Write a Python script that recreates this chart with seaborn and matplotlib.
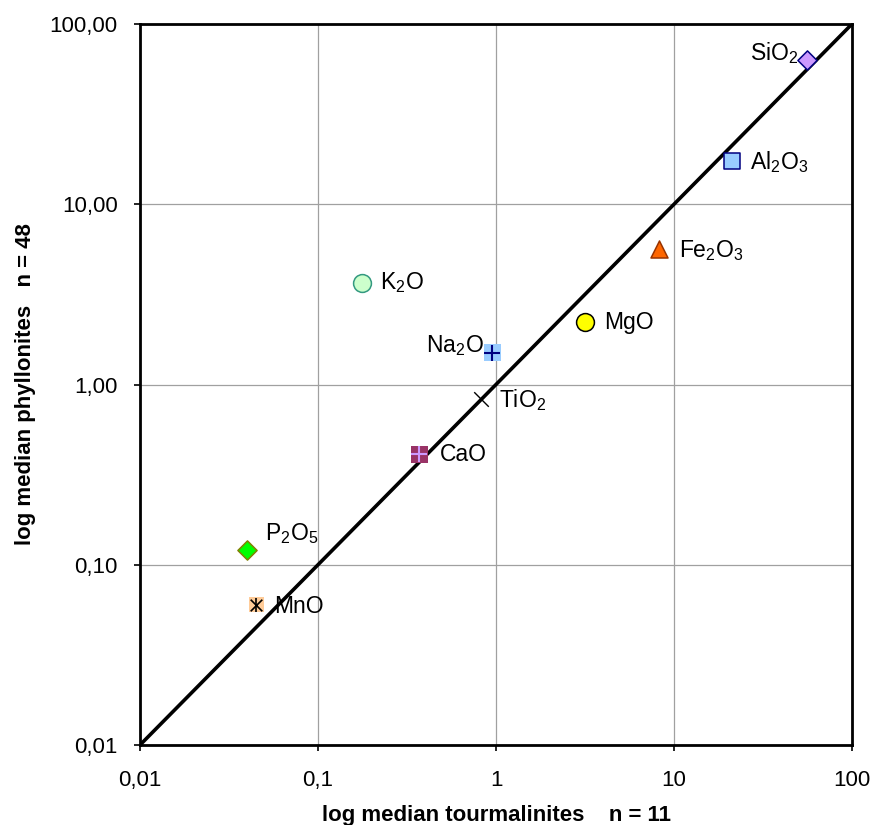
import matplotlib
matplotlib.use("Agg")
import matplotlib.pyplot as plt
import seaborn as sns
import pandas as pd

# Data
oxides = ["SiO2", "Al2O3", "Fe2O3", "K2O", "Na2O", "MgO", "TiO2", "CaO", "P2O5", "MnO"]
labels = ["SiO$_2$", "Al$_2$O$_3$", "Fe$_2$O$_3$", "K$_2$O", "Na$_2$O", "MgO",
          "TiO$_2$", "CaO", "P$_2$O$_5$", "MnO"]
tourmalinites = [56.0, 21.2, 8.2, 0.177, 0.95, 3.16, 0.82, 0.37, 0.040, 0.045]
phyllonites = [63.0, 17.4, 5.65, 3.66, 1.50, 2.22, 0.83, 0.41, 0.121, 0.060]
x_ticks = [0.01, 0.1, 1, 10, 100]
x_ticklabels = ["0,01", "0,1", "1", "10", "100"]
y_ticks = [0.01, 0.1, 1, 10, 100]
y_ticklabels = ["0,01", "0,10", "1,00", "10,00", "100,00"]

df = pd.DataFrame({"oxide": oxides, "label": labels, "x": tourmalinites, "y": phyllonites})

sns.set_style("white")
plt.rcParams["font.family"] = ["Liberation Sans", "DejaVu Sans"]
plt.rcParams["mathtext.fontset"] = "custom"
plt.rcParams["mathtext.rm"] = "Liberation Sans"
plt.rcParams["mathtext.it"] = "Liberation Sans"
plt.rcParams["mathtext.bf"] = "Liberation Sans:bold"
plt.rcParams["mathtext.default"] = "regular"
for k in ["text.color", "axes.labelcolor", "xtick.color", "ytick.color"]:
    plt.rcParams[k] = "black"

fig = plt.figure(figsize=(8.72, 8.25), dpi=100)
ax = fig.add_axes([140/872, 1-745/825, (852-140)/872, (745-24)/825])
ax.set_xscale("log")
ax.set_yscale("log")
ax.set_xlim(0.01, 100)
ax.set_ylim(0.01, 100)

ax.grid(True, which="major", color="#a0a0a0", linewidth=0.9)
ax.set_axisbelow(True)

# 1:1 line
sns.lineplot(x=[0.01, 100], y=[0.01, 100], ax=ax, color="black", linewidth=2.6, zorder=2)

# marker styles: (base marker, face, edge, size(s), overlay marker, overlay color)
styles = {
    "SiO2": ("D", "#CC99FF", "#000080", 95, None, None),
    "Al2O3": ("s", "#99CCFF", "#000080", 135, None, None),
    "Fe2O3": ("^", "#FF6600", "#993300", 150, None, None),
    "K2O": ("o", "#CCFFCC", "#339980", 165, None, None),
    "Na2O": ("s", "#99CCFF", "none", 150, "+", "#000080"),
    "MgO": ("o", "#FFFF00", "#000000", 165, None, None),
    "TiO2": (None, None, None, 0, "x", "#000000"),
    "CaO": ("s", "#993366", "none", 150, "+", "#CC99FF"),
    "P2O5": ("D", "#00FF00", "#808000", 95, None, None),
    "MnO": ("s", "#FFCC99", "none", 115, "*x", "#000000"),
}

for _, r in df.iterrows():
    m, fc, ec, s, om, oc = styles[r["oxide"]]
    sub = df[df["oxide"] == r["oxide"]]
    if m is not None:
        sns.scatterplot(data=sub, x="x", y="y", ax=ax, marker=m, s=s, color=fc,
                        edgecolor=ec, linewidth=1.1, zorder=4, legend=False)
    if om == "+":
        sns.scatterplot(data=sub, x="x", y="y", ax=ax, marker="+", s=140, color=oc,
                        linewidth=1.5, zorder=5, legend=False)
    elif om == "x":
        sns.scatterplot(data=sub, x="x", y="y", ax=ax, marker="x", s=110, color=oc,
                        linewidth=1.0, zorder=5, legend=False)
    elif om == "*x":
        sns.scatterplot(data=sub, x="x", y="y", ax=ax, marker="x", s=70, color=oc,
                        linewidth=1.2, zorder=5, legend=False)
        sns.scatterplot(data=sub, x="x", y="y", ax=ax, marker="|", s=110, color=oc,
                        linewidth=1.2, zorder=5, legend=False)

# label offsets in points
offsets = {
    "SiO2": (-6, 5, "right"),
    "Al2O3": (13, -1, "left"),
    "Fe2O3": (15, -1, "left"),
    "K2O": (13, 0, "left"),
    "Na2O": (-6, 5, "right"),
    "MgO": (14, 0, "left"),
    "TiO2": (13, -1, "left"),
    "CaO": (15, 0, "left"),
    "P2O5": (13, 12, "left"),
    "MnO": (13, -1, "left"),
}
for _, r in df.iterrows():
    dx, dy, ha = offsets[r["oxide"]]
    ax.annotate(r["label"], (r["x"], r["y"]), xytext=(dx, dy), textcoords="offset points",
                ha=ha, va="center", fontsize=16.5, zorder=6)

ax.set_xticks(x_ticks)
ax.set_xticklabels(x_ticklabels, fontsize=16)
ax.set_yticks(y_ticks)
ax.set_yticklabels(y_ticklabels, fontsize=16)
ax.minorticks_off()
ax.tick_params(axis="both", which="major", length=4, width=1.2, color="black",
               direction="out", bottom=True, left=True)
ax.tick_params(axis="x", pad=14)
ax.tick_params(axis="y", pad=12)

for sp in ax.spines.values():
    sp.set_color("black")
    sp.set_linewidth(2.0)

ax.set_xlabel("log median tourmalinites    n = 11", fontsize=16, fontweight="bold", labelpad=10)
ax.set_ylabel("log median phyllonites   n = 48", fontsize=16, fontweight="bold", labelpad=10)

fig.savefig("out.png", dpi=100)
